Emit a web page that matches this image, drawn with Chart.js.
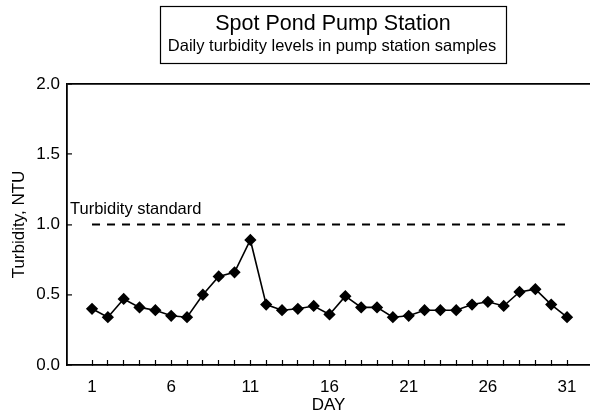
<!DOCTYPE html>
<html>
<head>
<meta charset="utf-8">
<script src="https://cdn.jsdelivr.net/npm/chart.js@4.4.1/dist/chart.umd.min.js"></script>
<style>
  html, body { margin: 0; padding: 0; background: #fff; }
  #wrap { width: 590px; height: 415px; }
</style>
</head>
<body>
<div id="wrap"><canvas id="c" width="590" height="415"></canvas></div>
<script>
// ---- data ----
const days = [1,2,3,4,5,6,7,8,9,10,11,12,13,14,15,16,17,18,19,20,21,22,23,24,25,26,27,28,29,30,31];
const turbidity = [0.40,0.34,0.47,0.41,0.39,0.35,0.34,0.50,0.63,0.66,0.89,0.43,0.39,0.40,0.42,0.36,0.49,0.41,0.41,0.34,0.35,0.39,0.39,0.39,0.43,0.45,0.42,0.52,0.54,0.43,0.34];
const standardDays = [1, 31];
const standardValue = [1.0, 1.0];
const yTicks = [0.0, 0.5, 1.0, 1.5, 2.0];
const xLabelDays = [1, 6, 11, 16, 21, 26, 31];
const titleText = 'Spot Pond Pump Station';
const subtitleText = 'Daily turbidity levels in pump station samples';
const standardLabel = 'Turbidity standard';

const FONT = "'Liberation Sans', Arial, sans-serif";

const mainData = days.map((d, i) => ({ x: d, y: turbidity[i] }));
const stdData = standardDays.map((d, i) => ({ x: d, y: standardValue[i] }));

const decorPlugin = {
  id: 'decor',
  afterDraw(chart) {
    const ctx = chart.ctx;
    const ca = chart.chartArea;
    const ys = chart.scales.y;
    ctx.save();
    // title box
    ctx.strokeStyle = '#000';
    ctx.lineWidth = 1.2;
    ctx.strokeRect(160.5, 6.5, 346, 57);
    ctx.fillStyle = '#000';
    ctx.textAlign = 'center';
    ctx.textBaseline = 'alphabetic';
    ctx.font = "21.5px " + FONT;
    ctx.fillText(titleText, 333, 30);
    ctx.font = "16.5px " + FONT;
    ctx.fillText(subtitleText, 332, 51);
    // standard label
    ctx.textAlign = 'left';
    ctx.font = "16.5px " + FONT;
    ctx.fillText(standardLabel, ca.left + 3, ys.getPixelForValue(standardValue[0]) - 11);
    ctx.restore();
  }
};

new Chart(document.getElementById('c'), {
  type: 'line',
  data: {
    datasets: [
      {
        data: mainData,
        borderColor: '#000',
        backgroundColor: '#000',
        borderWidth: 1.6,
        pointStyle: 'rectRot',
        pointRadius: 5,
        pointHoverRadius: 5,
        tension: 0
      },
      {
        data: stdData,
        borderColor: '#000',
        borderWidth: 2,
        borderDash: [8, 7],
        pointRadius: 0,
        tension: 0
      }
    ]
  },
  options: {
    responsive: false,
    animation: false,
    devicePixelRatio: 1,
    layout: { autoPadding: false, padding: { top: 84, right: 0, left: 0, bottom: 0 } },
    plugins: {
      legend: { display: false },
      tooltip: { enabled: false },
      title: { display: false }
    },
    scales: {
      x: {
        type: 'linear',
        min: -0.58,
        max: 32.45,
        afterBuildTicks: (scale) => { scale.ticks = days.map(v => ({ value: v })); },
        afterFit: (scale) => { scale.height = 50; scale.paddingLeft = 0; scale.paddingRight = 0; },
        ticks: {
          autoSkip: false,
          maxRotation: 0,
          padding: 17,
          color: '#000',
          font: { family: FONT, size: 17 },
          callback: (v) => xLabelDays.includes(v) ? String(v) : ''
        },
        grid: {
          drawOnChartArea: false,
          drawTicks: true,
          tickLength: -5,
          tickColor: '#000',
          tickWidth: 1.2
        },
        border: { display: true, color: '#000', width: 1.8 },
        title: {
          display: true,
          text: 'DAY',
          color: '#000',
          font: { family: FONT, size: 17 },
          padding: { top: 0, bottom: -1 }
        }
      },
      y: {
        min: 0,
        max: 2,
        afterBuildTicks: (scale) => { scale.ticks = yTicks.map(v => ({ value: v })); },
        afterFit: (scale) => { scale.width = 67; scale.paddingTop = 0; scale.paddingBottom = 0; },
        ticks: {
          padding: 12,
          color: '#000',
          font: { family: FONT, size: 17 },
          callback: (v) => Number(v).toFixed(1)
        },
        grid: {
          drawOnChartArea: true,
          drawTicks: true,
          tickLength: -5,
          tickColor: '#000',
          tickWidth: 1.2,
          lineWidth: 1.8,
          color: (c) => (c.tick && c.tick.value === 2) ? '#000' : 'rgba(0,0,0,0)'
        },
        border: { display: true, color: '#000', width: 1.8 },
        title: {
          display: true,
          text: 'Turbidity, NTU',
          color: '#000',
          font: { family: FONT, size: 17 },
          padding: { top: 9, bottom: 0 }
        }
      }
    }
  },
  plugins: [decorPlugin]
});
</script>
</body>
</html>
